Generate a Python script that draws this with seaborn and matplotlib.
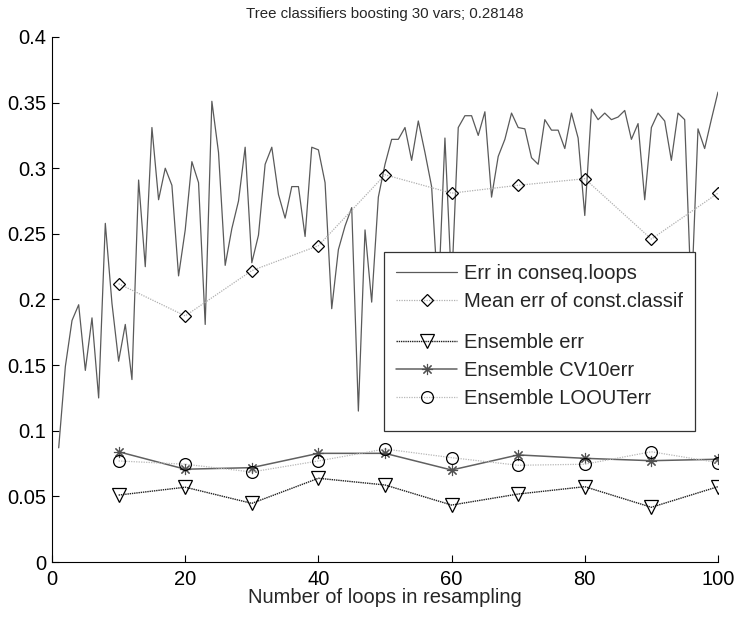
import numpy as np
import pandas as pd
import matplotlib
matplotlib.use("Agg")
import matplotlib.pyplot as plt
from matplotlib.lines import Line2D
from matplotlib.offsetbox import DrawingArea
from matplotlib.ticker import FuncFormatter
import seaborn as sns

# Data
loops = list(range(1, 101))
err_conseq = [0.087, 0.149, 0.184, 0.196, 0.146, 0.186, 0.125, 0.258, 0.197, 0.153,
              0.181, 0.139, 0.291, 0.225, 0.331, 0.276, 0.300, 0.287, 0.218, 0.253,
              0.305, 0.289, 0.181, 0.351, 0.312, 0.226, 0.254, 0.275, 0.316, 0.228,
              0.249, 0.303, 0.316, 0.280, 0.262, 0.286, 0.286, 0.248, 0.316, 0.314,
              0.289, 0.193, 0.238, 0.256, 0.270, 0.115, 0.253, 0.198, 0.278, 0.303,
              0.322, 0.322, 0.331, 0.306, 0.336, 0.312, 0.286, 0.200, 0.323, 0.210,
              0.331, 0.340, 0.340, 0.325, 0.343, 0.278, 0.309, 0.322, 0.342, 0.331,
              0.330, 0.308, 0.303, 0.337, 0.329, 0.329, 0.315, 0.342, 0.323, 0.264,
              0.345, 0.337, 0.342, 0.337, 0.339, 0.344, 0.322, 0.334, 0.276, 0.331,
              0.342, 0.336, 0.306, 0.342, 0.337, 0.200, 0.330, 0.315, 0.337, 0.358]

steps = [10, 20, 30, 40, 50, 60, 70, 80, 90, 100]
mean_const = [0.212, 0.1875, 0.222, 0.241, 0.295, 0.281, 0.287, 0.292, 0.246, 0.281]
ens_err = [0.051, 0.057, 0.0447, 0.0638, 0.0587, 0.0434, 0.0518, 0.0574, 0.0417, 0.0574]
ens_cv10 = [0.084, 0.0707, 0.0719, 0.0828, 0.0828, 0.0701, 0.0816, 0.079, 0.0772, 0.0783]
ens_loou = [0.077, 0.0745, 0.0686, 0.077, 0.0861, 0.0795, 0.0737, 0.0745, 0.084, 0.0757]

labels = ['Err in conseq.loops', 'Mean err of const.classif',
          'Ensemble err', 'Ensemble CV10err', 'Ensemble LOOUTerr']
title = 'Tree classifiers boosting 30 vars; 0.28148'

sns.set_theme(style="ticks")
plt.rcParams['font.family'] = ['Liberation Sans', 'DejaVu Sans']

fig = plt.figure(figsize=(7.36, 6.17), dpi=100)
ax = fig.add_axes([0.0707, 0.0891, 0.9048, 0.851])

df_loop = pd.DataFrame({'loop': loops, 'err': err_conseq})
df_step = pd.DataFrame({'loop': steps, 'mean': mean_const, 'ens': ens_err,
                        'cv10': ens_cv10, 'loou': ens_loou})

sns.lineplot(data=df_loop, x='loop', y='err', ax=ax, color='#5a5a5a', lw=0.9)
sns.lineplot(data=df_step, x='loop', y='mean', ax=ax, color='#b0b0b0', lw=0.9,
             linestyle=(0, (1, 1)), marker='D', markersize=6.5,
             markerfacecolor='none', markeredgecolor='black', markeredgewidth=0.9)
sns.lineplot(data=df_step, x='loop', y='ens', ax=ax, color='#202020', lw=1.0,
             linestyle=(0, (1, 0.6)), marker='v', markersize=9.5,
             markerfacecolor='none', markeredgecolor='black', markeredgewidth=0.9)
sns.lineplot(data=df_step, x='loop', y='cv10', ax=ax, color='#606060', lw=1.1,
             marker=(8, 2, 0), markersize=8,
             markeredgecolor='#505050', markeredgewidth=0.8)
sns.lineplot(data=df_step, x='loop', y='loou', ax=ax, color='#b8b8b8', lw=0.9,
             linestyle=(0, (1, 1)), marker='o', markersize=8.5,
             markerfacecolor='none', markeredgecolor='black', markeredgewidth=0.9)

ax.set_xlim(0, 100)
ax.set_ylim(0, 0.4)
ax.set_xticks([0, 20, 40, 60, 80, 100])
ax.set_yticks(np.arange(0, 0.401, 0.05))
ax.yaxis.set_major_formatter(FuncFormatter(lambda v, p: '%g' % round(v, 2)))
ax.tick_params(direction='in', length=5, width=0.8, labelsize=14.5, colors='black')
ax.tick_params(axis='x', pad=6)
ax.tick_params(axis='y', pad=4)
for s in ['top', 'right']:
    ax.spines[s].set_visible(False)
for s in ['left', 'bottom']:
    ax.spines[s].set_color('black')
    ax.spines[s].set_linewidth(0.8)
ax.set_xlabel('Number of loops in resampling', fontsize=14.5, labelpad=-1)
ax.set_ylabel('')
ax.set_title(title, fontsize=10.8, pad=14)

# legend with a thin gap between the two groups and extra room at the bottom
lines = ax.get_lines()
spacer = Line2D([], [], linestyle='none')
spacer2 = Line2D([], [], linestyle='none')
handles = [lines[0], lines[1], spacer, lines[2], lines[3], lines[4], spacer2]
leg_labels = labels[:2] + [' '] + labels[2:] + [' ']
leg = ax.legend(handles, leg_labels, loc='upper right', bbox_to_anchor=(0.9655, 0.5905),
                borderaxespad=0, fontsize=14.5, handlelength=3.0, handletextpad=0.35,
                labelspacing=0.45, borderpad=0.6,
                fancybox=False, framealpha=1, edgecolor='#333333')
leg.get_frame().set_linewidth(0.9)
column = leg._legend_handle_box.get_children()[0]
items = column.get_children()
items[2] = DrawingArea(1, 2.9)
items[6] = DrawingArea(1, 0.8)

fig.savefig('out.png', dpi=100)
